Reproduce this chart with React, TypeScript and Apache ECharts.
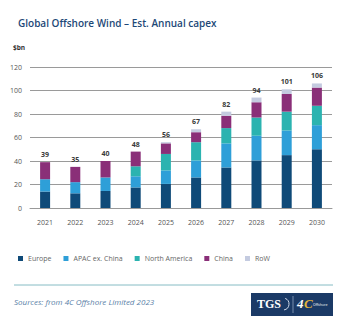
import React, { useEffect, useRef } from "react";
import * as echarts from "echarts";

const years = ["2021", "2022", "2023", "2024", "2025", "2026", "2027", "2028", "2029", "2030"];
const europe = [14, 12.5, 14.5, 17.5, 20.5, 26, 34.5, 40.5, 45, 50];
const apac = [10.5, 9.5, 11.5, 9.5, 11.5, 14.5, 20.5, 21, 21, 20.5];
const northAmerica = [0, 0, 0, 8.5, 14, 15.5, 13, 15.5, 16, 16.5];
const china = [14.5, 13, 14, 12.5, 9, 8.5, 10.5, 13, 15, 15.5];
const row = [0, 0, 0, 0, 1, 2.5, 3.5, 4, 4, 3.5];
const totals = [39, 35, 40, 48, 56, 67, 82, 94, 101, 106];
const yTicks = [0, 20, 40, 60, 80, 100, 120];

const seriesNames = ["Europe", "APAC ex. China", "North America", "China", "RoW"];
const seriesColors = ["#0f4a78", "#2e9fd8", "#2bb3b0", "#8a2f78", "#c4cbe0"];

export default function App() {
  const ref = useRef<HTMLDivElement>(null);
  useEffect(() => {
    if (!ref.current) return;
    const chart = echarts.init(ref.current, undefined, { renderer: "svg" });
    const datas = [europe, apac, northAmerica, china, row];
    const series: any[] = datas.map((d, i) => ({
      name: seriesNames[i],
      type: "bar",
      stack: "total",
      barWidth: 10,
      data: d,
      itemStyle: { color: seriesColors[i] },
      label:
        i === datas.length - 1
          ? {
              show: true,
              position: "top",
              distance: 4,
              formatter: (p: any) => String(totals[p.dataIndex]),
              fontSize: 7,
              fontWeight: "bold",
              color: "#3a3a3a",
              fontFamily: "Open Sans",
            }
          : { show: false },
    }));
    chart.setOption({
      animation: false,
      backgroundColor: "#ffffff",
      grid: { left: 30, right: 14, top: 67, bottom: 116, containLabel: false },
      title: {
        text: "Global Offshore Wind – Est. Annual capex",
        left: 13,
        top: 13,
        textStyle: { fontFamily: "Open Sans", fontSize: 10, fontWeight: 600, color: "#1d4877" },
      },
      legend: {
        data: seriesNames,
        left: 13,
        top: 250,
        itemWidth: 5,
        itemHeight: 5,
        itemGap: 12,
        icon: "rect",
        textStyle: { fontFamily: "Open Sans", fontSize: 7, color: "#666" },
      },
      xAxis: {
        type: "category",
        data: years,
        axisLine: { lineStyle: { color: "#999", width: 1 } },
        axisTick: { show: false },
        axisLabel: { fontFamily: "Open Sans", fontSize: 7, color: "#555", margin: 11 },
      },
      yAxis: {
        type: "value",
        min: 0,
        max: 120,
        interval: 20,
        axisLine: { show: false },
        axisTick: { show: false },
        splitLine: { lineStyle: { color: "#9a9a9a", width: 1 } },
        axisLabel: {
          fontFamily: "Open Sans",
          fontSize: 7,
          color: "#555",
          margin: 8,
          formatter: (v: number) => (yTicks.includes(v) ? String(v) : ""),
        },
      },
      graphic: [
        {
          type: "text",
          left: 13,
          top: 44,
          style: { text: "$bn", fontFamily: "Open Sans", fontSize: 6.5, fontWeight: "bold", fill: "#333" },
        },
        {
          type: "line",
          shape: { x1: 14, y1: 285, x2: 333, y2: 285 },
          style: { stroke: "#86bcc4", lineWidth: 1 },
        },
        {
          type: "text",
          left: 14,
          top: 297,
          style: {
            text: "Sources: from 4C Offshore Limited 2023",
            fontFamily: "Open Sans",
            fontSize: 8,
            fontStyle: "italic",
            fill: "#5a7fa8",
          },
        },
        {
          type: "rect",
          shape: { x: 251, y: 293, width: 82, height: 23 },
          style: { fill: "#1b3a66" },
        },
        {
          type: "text",
          x: 257,
          y: 298,
          style: { text: "TGS", fontFamily: "Liberation Serif", fontSize: 12, fontWeight: "bold", fill: "#ffffff" },
        },
        {
          type: "arc",
          shape: { cx: 283, cy: 304, r: 6, startAngle: -1.2, endAngle: 1.4 },
          style: { stroke: "#d0d8e8", lineWidth: 1, fill: "none" },
        },
        {
          type: "line",
          shape: { x1: 293, y1: 296, x2: 293, y2: 313 },
          style: { stroke: "#8fa3c0", lineWidth: 0.8 },
        },
        {
          type: "text",
          x: 297,
          y: 297,
          style: { text: "4", fontFamily: "Liberation Serif", fontSize: 13, fontWeight: "bold", fontStyle: "italic", fill: "#ffffff" },
        },
        {
          type: "text",
          x: 304,
          y: 297,
          style: { text: "C", fontFamily: "Liberation Serif", fontSize: 13, fontWeight: "bold", fontStyle: "italic", fill: "#e0b23a" },
        },
        {
          type: "text",
          x: 313,
          y: 302,
          style: { text: "Offshore", fontFamily: "Open Sans", fontSize: 3.5, fill: "#ffffff" },
        },
      ],
      series,
    });
    return () => chart.dispose();
  }, []);
  return (
    <div
      ref={ref}
      style={{ position: "absolute", left: 0, top: 0, width: 346, height: 324, background: "#fff" }}
    />
  );
}
